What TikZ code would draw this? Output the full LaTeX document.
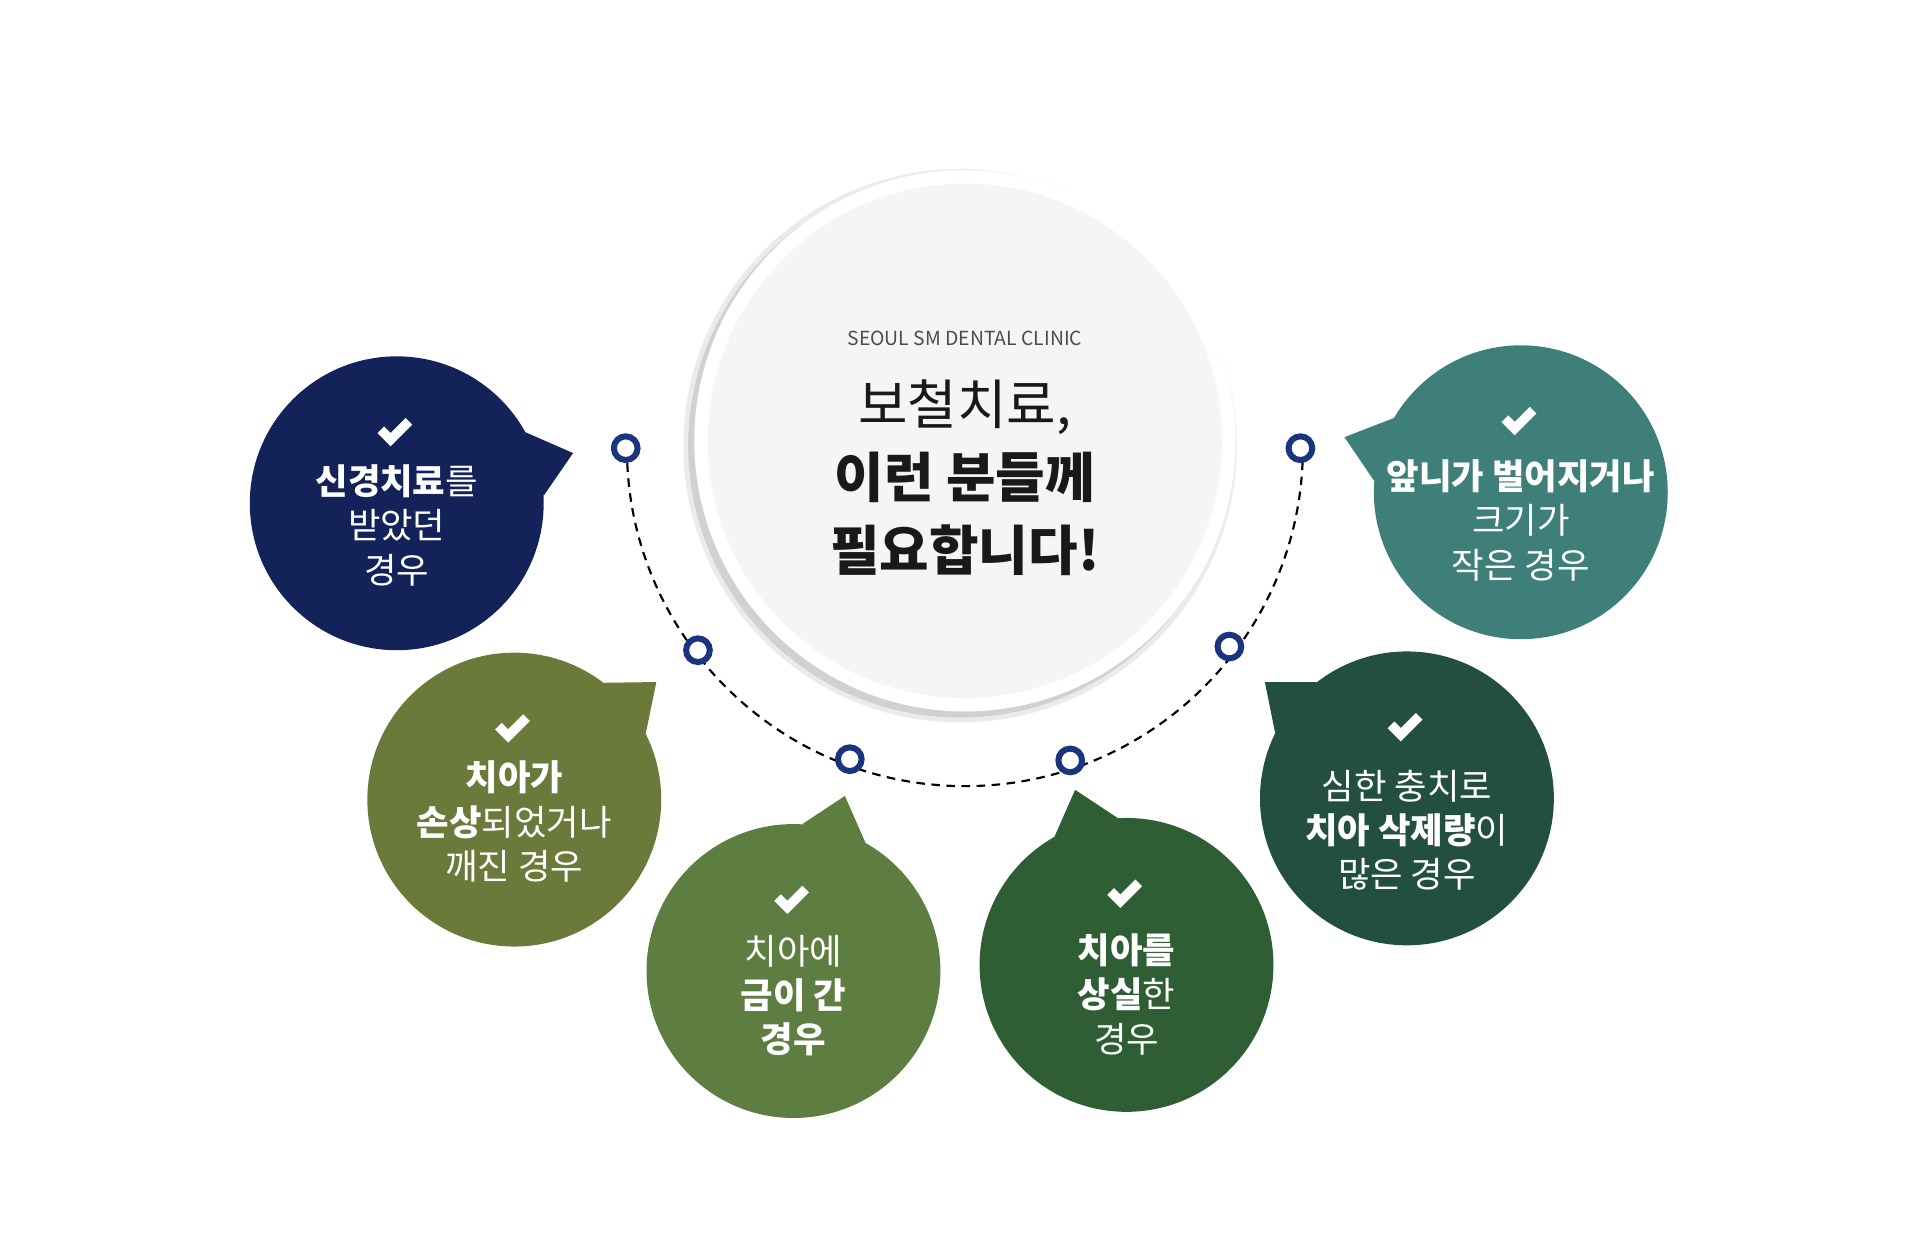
\documentclass[tikz,border=0pt]{standalone}
\usepackage{fontspec}
\setmainfont{Noto Sans CJK KR}
\usetikzlibrary{calc}
\definecolor{navy}{HTML}{13235A}
\definecolor{olive}{HTML}{6B7A3A}
\definecolor{leaf}{HTML}{5E7D40}
\definecolor{forest}{HTML}{2F5E35}
\definecolor{pine}{HTML}{234F40}
\definecolor{teal}{HTML}{3E8079}
\definecolor{ring}{HTML}{1A3480}
\newcommand\bubble[5]{% name, x, y, colour, tip
  \coordinate (#1) at (#2,#3);
  \fill[#4] ($(#1)!1.2cm!13:(#5)$) -- (#5) -- ($(#1)!1.2cm!-13:(#5)$) -- cycle;
  \fill[#4] (#1) circle[radius=120];
  \draw[chk] ($(#1)+(-13,-60)$) -- ++(8,8) -- ++(15,-15);}
\begin{document}
\begin{tikzpicture}
[x=0.01cm,y=-0.01cm,
chk/.style={white,line width=2.2pt},
txt/.style={white,align=center,font=\fontsize{8.2}{10.3}\selectfont},
dot/.style={circle,draw=ring,fill=white,line width=1.4pt,inner sep=0pt,minimum size=5.5pt}]
\useasboundingbox (0,0) rectangle (1568,1014);
% centre disc
\fill[black!8] (784,364) circle[radius=226];
\fill[black!18] (784,364) circle[radius=222];
\fill[white] (788,360) circle[radius=221];
\fill[black!4] (788,360) circle[radius=210];
\node (sub) at (788,276) {\fontsize{4.5}{5}\selectfont\color{black!70}SEOUL SM DENTAL CLINIC};
\node[align=center,font=\fontsize{12.5}{17}\selectfont,text=black!90] (title) at (788,390)
  {보철치료,\\\textbf{이런 분들께}\\\textbf{필요합니다!}};
% dashed arc and markers
\coordinate (hub) at (788,360);
\draw[dash pattern=on 2pt off 1.5pt,line width=0.5pt] (512,366) arc[start angle=180,end angle=0,radius=276];
\foreach \n/\x/\y in {m1/511/366,m2/570/531,m3/694/620,m4/874/621,m5/1004/528,m6/1062/366}
  \node[dot] (\n) at (\x,\y) {};
% bubbles
\coordinate (t1) at (468,370);
\coordinate (t2) at (536,557);
\coordinate (t3) at (690,650);
\coordinate (t4) at (878,645);
\coordinate (t5) at (1033,557);
\coordinate (t6) at (1098,357);
\bubble{b1}{324}{411}{navy}{t1}
\bubble{b2}{420}{653}{olive}{t2}
\bubble{b3}{648}{793}{leaf}{t3}
\bubble{b4}{920}{788}{forest}{t4}
\bubble{b5}{1149}{652}{pine}{t5}
\bubble{b6}{1242}{402}{teal}{t6}
\node[txt] (l1) at ($(b1)+(0,18)$) {\textbf{신경치료}를\\받았던\\경우};
\node[txt] (l2) at ($(b2)+(0,18)$) {\textbf{치아가}\\\textbf{손상}되었거나\\깨진 경우};
\node[txt] (l3) at ($(b3)+(0,20)$) {치아에\\\textbf{금이 간}\\\textbf{경우}};
\node[txt] (l4) at ($(b4)+(0,24)$) {\textbf{치아를}\\\textbf{상실}한\\경우};
\node[txt] (l5) at ($(b5)+(0,26)$) {심한 충치로\\\textbf{치아 삭제량}이\\많은 경우};
\node[txt] (l6) at ($(b6)+(0,23)$) {\textbf{앞니가 벌어지거나}\\크기가\\작은 경우};
\end{tikzpicture}
\end{document}
